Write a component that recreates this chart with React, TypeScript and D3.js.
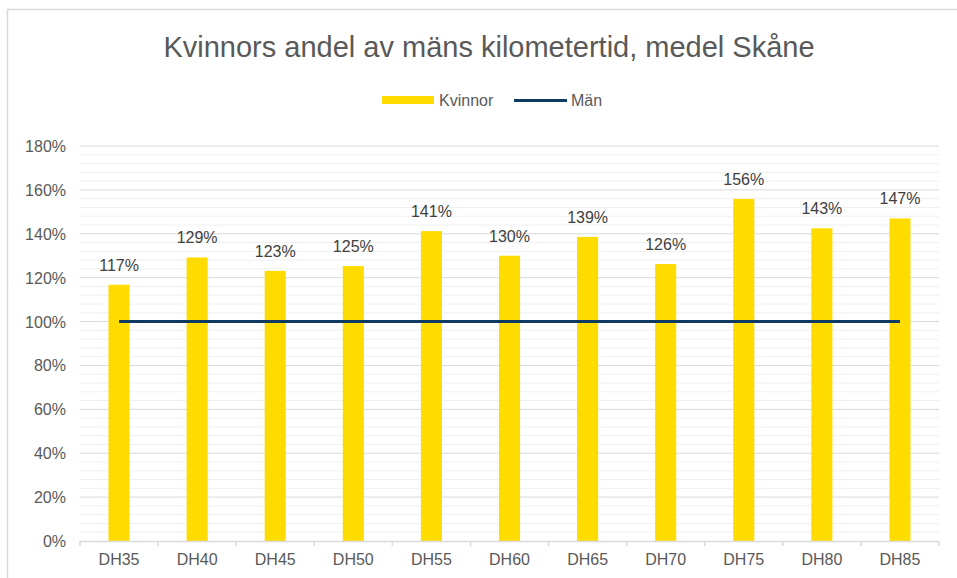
import React, { useEffect, useRef } from 'react';
import * as d3 from 'd3';

const categories = ['DH35', 'DH40', 'DH45', 'DH50', 'DH55', 'DH60', 'DH65', 'DH70', 'DH75', 'DH80', 'DH85'];
const kvinnor = [116.8, 129.2, 123.1, 125.3, 141.2, 130.0, 138.6, 126.2, 155.9, 142.5, 147.0];
const man = [100, 100, 100, 100, 100, 100, 100, 100, 100, 100, 100];
const yTicks = [0, 20, 40, 60, 80, 100, 120, 140, 160, 180];

const W = 957;
const H = 578;
const FONT = '"Liberation Sans", Arial, sans-serif';

const App: React.FC = () => {
  const svgRef = useRef<SVGSVGElement>(null);

  useEffect(() => {
    if (!svgRef.current) return;
    const svg = d3.select(svgRef.current);
    svg.selectAll('*').remove();

    const left = 80, right = 939, top = 146, bottom = 541;

    // chart frame
    svg.append('rect')
      .attr('x', 7.5).attr('y', 9.5)
      .attr('width', W).attr('height', H)
      .attr('fill', '#fff')
      .attr('stroke', '#d9d9d9')
      .attr('stroke-width', 1.5);

    const x = d3.scaleBand<string>().domain(categories).range([left, right]).paddingInner(0.73).paddingOuter(0.365);
    const xc = d3.scaleBand<string>().domain(categories).range([left, right]);
    const y = d3.scaleLinear().domain([0, 180]).range([bottom, top]);

    // minor gridlines
    const minor = d3.range(0, 181, 4).filter(v => v % 20 !== 0);
    svg.append('g').selectAll('line').data(minor).enter().append('line')
      .attr('x1', left).attr('x2', right)
      .attr('y1', d => y(d)).attr('y2', d => y(d))
      .attr('stroke', '#f0f0f0').attr('stroke-width', 1);

    // major gridlines
    svg.append('g').selectAll('line').data(yTicks.filter(v => v > 0)).enter().append('line')
      .attr('x1', left).attr('x2', right)
      .attr('y1', d => y(d)).attr('y2', d => y(d))
      .attr('stroke', '#d9d9d9').attr('stroke-width', 1);

    // y labels
    svg.append('g').selectAll('text').data(yTicks).enter().append('text')
      .attr('x', 66).attr('y', d => y(d) + 6)
      .attr('text-anchor', 'end')
      .attr('font-family', FONT).attr('font-size', 16)
      .attr('fill', '#595959')
      .text(d => `${d}%`);

    // bars
    svg.append('g').selectAll('rect').data(kvinnor).enter().append('rect')
      .attr('x', (d, i) => x(categories[i])!)
      .attr('width', x.bandwidth())
      .attr('y', d => y(d))
      .attr('height', d => bottom - y(d))
      .attr('fill', '#ffdc00');

    // bar labels
    svg.append('g').selectAll('text').data(kvinnor).enter().append('text')
      .attr('x', (d, i) => xc(categories[i])! + xc.bandwidth() / 2)
      .attr('y', d => y(d) - 14)
      .attr('text-anchor', 'middle')
      .attr('font-family', FONT).attr('font-size', 16)
      .attr('fill', '#404040')
      .text(d => `${Math.round(d)}%`);

    // x axis
    svg.append('line')
      .attr('x1', left).attr('x2', right)
      .attr('y1', bottom + 0.5).attr('y2', bottom + 0.5)
      .attr('stroke', '#d9d9d9').attr('stroke-width', 1.5);
    const bounds = categories.map(c => xc(c)!).concat([right]);
    svg.append('g').selectAll('line').data(bounds).enter().append('line')
      .attr('x1', d => d).attr('x2', d => d)
      .attr('y1', bottom).attr('y2', bottom + 5)
      .attr('stroke', '#d9d9d9').attr('stroke-width', 1.5);
    svg.append('g').selectAll('text').data(categories).enter().append('text')
      .attr('x', d => xc(d)! + xc.bandwidth() / 2)
      .attr('y', 565)
      .attr('text-anchor', 'middle')
      .attr('font-family', FONT).attr('font-size', 16)
      .attr('fill', '#595959')
      .text(d => d);

    // Män line
    const line = d3.line<number>()
      .x((d, i) => xc(categories[i])! + xc.bandwidth() / 2)
      .y(d => y(d));
    svg.append('path')
      .datum(man)
      .attr('d', line)
      .attr('fill', 'none')
      .attr('stroke', '#0f3b63')
      .attr('stroke-width', 3);

    // title
    svg.append('text')
      .attr('x', 489).attr('y', 57)
      .attr('text-anchor', 'middle')
      .attr('font-family', FONT).attr('font-size', 29)
      .attr('fill', '#595959')
      .text('Kvinnors andel av mäns kilometertid, medel Skåne');

    // legend
    const lg = svg.append('g');
    lg.append('rect').attr('x', 382).attr('y', 96).attr('width', 52).attr('height', 8).attr('fill', '#ffdc00');
    lg.append('text').attr('x', 439).attr('y', 106)
      .attr('font-family', FONT).attr('font-size', 16).attr('fill', '#595959').text('Kvinnor');
    lg.append('line').attr('x1', 514).attr('x2', 567).attr('y1', 100.5).attr('y2', 100.5)
      .attr('stroke', '#0f3b63').attr('stroke-width', 3);
    lg.append('text').attr('x', 571).attr('y', 106)
      .attr('font-family', FONT).attr('font-size', 16).attr('fill', '#595959').text('Män');
  }, []);

  return (
    <svg
      ref={svgRef}
      width={W}
      height={H}
      style={{ position: 'absolute', left: 0, top: 0, background: '#fff' }}
    />
  );
};

export default App;
